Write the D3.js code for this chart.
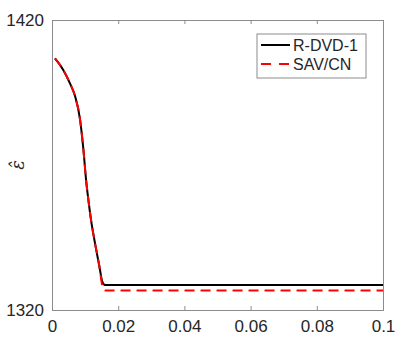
<!DOCTYPE html>
<html>
<head>
<meta charset="utf-8">
<script src="https://cdn.jsdelivr.net/npm/d3@7"></script>
<style>
  body { margin: 0; background: #fff; }
  text { font-family: "Liberation Sans", Arial, sans-serif; fill: #262626; }
</style>
</head>
<body>
<div id="chart"></div>
<script>
// time values
const tVals = [0.0009, 0.0034, 0.0054, 0.0070, 0.0085, 0.0092, 0.0095, 0.0103, 0.0110,
  0.0118, 0.0130, 0.0145, 0.0152, 0.0160, 0.1];
// R-DVD-1 energy
const rdvdVals = [1406.8, 1402.8, 1398.2, 1393.6, 1385.5, 1378.6, 1375.2, 1364.8, 1357.9,
  1351.0, 1343.0, 1333.8, 1329.8, 1328.6, 1328.6];
// SAV/CN energy
const savTimes = [0.0009, 0.0034, 0.0054, 0.0070, 0.0085, 0.0092, 0.0095, 0.0103, 0.0110,
  0.0118, 0.0130, 0.0145, 0.0150, 0.0155, 0.0162, 0.1];
const savVals = [1406.8, 1402.8, 1398.2, 1393.6, 1385.5, 1378.6, 1375.2, 1364.8, 1357.9,
  1351.0, 1343.0, 1333.8, 1329.5, 1327.3, 1326.7, 1326.7];

const xTicks = [0, 0.02, 0.04, 0.06, 0.08, 0.1];
const yTicks = [1320, 1420];

const margin = {top: 20, right: 16, bottom: 29, left: 52},
    width = 399 - margin.left - margin.right,
    height = 339 - margin.top - margin.bottom;

let svg = d3.select("#chart")
  .append("svg")
    .attr("width", 399)
    .attr("height", 339)
  .append("g")
    .attr("transform", "translate(" + margin.left + "," + margin.top + ")");

let x = d3.scaleLinear().domain([0, 0.1]).range([0, width]);
let y = d3.scaleLinear().domain([1320, 1420]).range([height, 0]);

// axes box with inward ticks
let xAxis = d3.axisBottom(x).tickValues(xTicks).tickSize(-4).tickPadding(10)
  .tickFormat(d => d === 0 ? "0" : String(+d.toFixed(2)));
svg.append("g")
  .attr("transform", "translate(0," + height + ")")
  .call(xAxis);

svg.append("g")
  .call(d3.axisTop(x).tickValues(xTicks).tickSize(-4).tickFormat(""));

svg.append("g")
  .call(d3.axisLeft(y).tickValues(yTicks).tickSize(-4).tickPadding(8).tickFormat(d3.format("d")));

svg.append("g")
  .attr("transform", "translate(" + width + ",0)")
  .call(d3.axisRight(y).tickValues(yTicks).tickSize(-4).tickFormat(""));

svg.selectAll(".domain, .tick line")
  .attr("stroke", "#8c8c8c");
svg.selectAll(".tick text")
  .style("font-size", "17px")
  .attr("fill", "#262626");

// lines
let line = d3.line()
  .x(d => x(d[0]))
  .y(d => y(d[1]))
  .curve(d3.curveMonotoneX);

svg.append("path")
  .datum(tVals.map((t, i) => [t, rdvdVals[i]]))
  .attr("d", line)
  .attr("fill", "none")
  .attr("stroke", "#000")
  .attr("stroke-width", 2);

svg.append("path")
  .datum(savTimes.map((t, i) => [t, savVals[i]]))
  .attr("d", line)
  .attr("fill", "none")
  .attr("stroke", "#ff0000")
  .attr("stroke-width", 2)
  .attr("stroke-dasharray", "10,6");

// legend
let legend = svg.append("g")
  .attr("transform", "translate(" + (257 - margin.left) + "," + (34 - margin.top) + ")");

legend.append("rect")
  .attr("width", 109)
  .attr("height", 44)
  .attr("fill", "#fff")
  .attr("stroke", "#8c8c8c");

const legendItems = [
  {name: "R-DVD-1", color: "#000", dash: null},
  {name: "SAV/CN", color: "#ff0000", dash: "10,8"}
];

legendItems.forEach((d, i) => {
  legend.append("line")
    .attr("x1", 4).attr("x2", 33)
    .attr("y1", 11 + i * 19).attr("y2", 11 + i * 19)
    .attr("stroke", d.color)
    .attr("stroke-width", 2)
    .attr("stroke-dasharray", d.dash);
  legend.append("text")
    .attr("x", 36)
    .attr("y", 17 + i * 19)
    .style("font-size", "16px")
    .text(d.name);
});

// y label
d3.select("svg")
  .append("text")
  .attr("transform", "translate(24,165) rotate(-90)")
  .style("text-anchor", "middle")
  .style("font-family", "'DejaVu Serif', serif")
  .style("font-style", "italic")
  .style("font-size", "18px")
  .text("\u03B5\u0302");
</script>
</body>
</html>
